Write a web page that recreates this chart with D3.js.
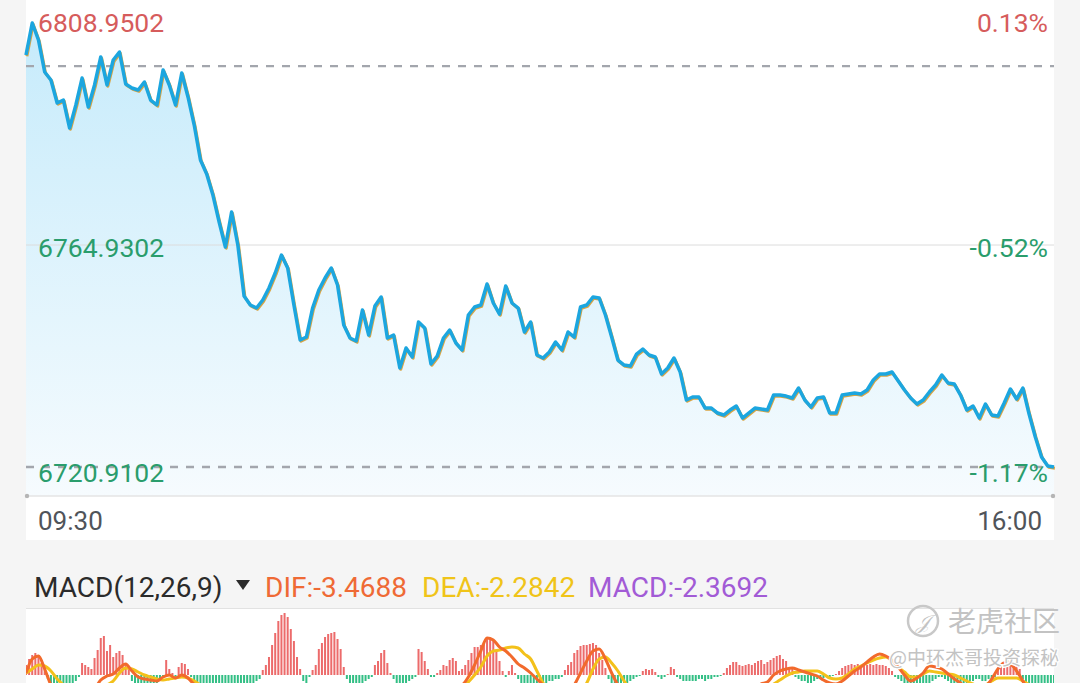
<!DOCTYPE html>
<html>
<head>
<meta charset="utf-8">
<script src="https://cdn.jsdelivr.net/npm/d3@7"></script>
<style>
html, body { margin: 0; padding: 0; background: #f5f5f5; }
svg { display: block; font-family: Roboto, "Noto Sans", sans-serif; }
</style>
</head>
<body>
<svg width="1080" height="683"></svg>
<script>
// ---- data ----
// index price, one point every 2 minutes, 09:30 -> 16:00 (330 trading minutes)
var prices = [
  6802.60, 6808.95, 6805.58, 6799.23, 6797.65, 6793.09, 6793.68, 6788.13, 6792.69, 6798.04,
  6792.29, 6796.66, 6802.21, 6796.66, 6801.61, 6803.20, 6796.85, 6796.06, 6795.66, 6797.25,
  6793.68, 6792.69, 6799.63, 6796.66, 6792.69, 6799.03, 6794.28, 6788.72, 6781.78, 6779.01,
  6774.84, 6769.49, 6764.53, 6771.47, 6764.93, 6754.81, 6753.03, 6752.43, 6754.02, 6756.40,
  6759.37, 6762.94, 6760.37, 6753.03, 6746.09, 6746.68, 6752.43, 6756.00, 6758.38, 6760.37,
  6757.00, 6749.06, 6746.49, 6745.89, 6752.04, 6747.08, 6752.83, 6754.62, 6746.49, 6747.08,
  6740.54, 6744.50, 6742.72, 6749.66, 6748.47, 6741.33, 6742.92, 6746.49, 6748.07, 6745.49,
  6744.11, 6751.05, 6752.63, 6753.03, 6757.19, 6753.43, 6751.24, 6756.80, 6753.43, 6752.43,
  6747.68, 6749.66, 6743.11, 6742.52, 6743.71, 6745.69, 6744.11, 6747.68, 6746.68, 6752.63,
  6753.03, 6754.62, 6754.42, 6751.05, 6746.68, 6742.12, 6741.13, 6740.93, 6743.31, 6744.30,
  6743.11, 6742.72, 6739.35, 6740.54, 6742.52, 6739.74, 6734.19, 6734.79, 6734.79, 6732.60,
  6732.60, 6731.61, 6731.22, 6732.21, 6733.00, 6730.62, 6731.61, 6732.60, 6732.41, 6732.21,
  6735.18, 6735.18, 6734.98, 6734.59, 6736.57, 6734.19, 6732.80, 6734.59, 6734.79, 6731.61,
  6731.61, 6735.18, 6735.38, 6735.58, 6735.38, 6736.17, 6738.16, 6739.35, 6739.35, 6739.74,
  6737.96, 6736.17, 6734.59, 6733.40, 6734.19, 6735.78, 6737.17, 6739.15, 6737.56, 6737.36,
  6735.18, 6732.21, 6733.00, 6730.62, 6733.40, 6731.22, 6731.02, 6733.60, 6736.37, 6734.39,
  6736.57, 6731.41, 6726.85, 6722.89, 6721.10, 6720.91
];
var prevClose = 6800.40;

var priceTicks = [6808.9502, 6764.9302, 6720.9102];
var pctTicks = ["0.13%", "-0.52%", "-1.17%"];
var timeTicks = ["09:30", "16:00"];

// MACD histogram, one bar per minute
var macdHist = [
  0.5, 0.8, 1.0, 1.1, 0.9, 0.6, 0.3,
  -0.2, -0.5, -0.8, -1.0, -1.1, -1.2, -1.1, -0.9, -0.6, -0.3,
  -0.1,
  0.6, 0.5, 0.4, 0.3,
  0.85, 1.25, 1.85, 1.95,
  1.2, 1.5, 0.9, 1.1, 1.2, 1.0, 0.6, 0.3,
  -0.3, -0.6, -0.8, -0.9, -1.0, -1.0, -0.9, -0.7, -0.5, -0.3,
  -0.1, 0.75, 0.3, 0.1, -0.1, 0.4, 0.6, 0.55, 0.3, -0.1,
  -0.4, -0.6, -0.8, -1.0, -1.1, -1.2, -1.3, -1.3, -1.3, -1.2, -1.2, -1.1, -1.0, -1.0, -0.9, -0.8, -0.7, -0.6, -0.5, -0.4, -0.3, -0.2,
  0.25, 0.5, 0.9, 1.5, 2.1, 2.7, 3.0, 3.1, 2.9, 2.3, 1.7, 0.9, 0.3,
  -0.3, -0.4, -0.1,
  0.25, 0.5, 1.3, 1.6, 1.9, 2.05, 2.1, 2.15, 1.8, 1.3, 0.4,
  -0.2, -0.4, -0.5, -0.6, -0.5, -0.4, -0.3, -0.2, -0.1,
  0.5, 0.7, 1.1, 1.25, 0.6, 0.1,
  -0.2, -0.4, -0.5, -0.5, -0.4, -0.3, -0.2, -0.1,
  1.3, 1.15, 0.7, 0.3,
  -0.1, -0.1,
  0.1, 0.25, 0.5, 0.45, 0.75, 0.85, 0.7, 0.2,
  0.3, 0.5, 0.75, 1.1, 1.4, 1.4, 1.5, 1.65, 1.8, 1.85, 1.7, 1.2, 0.7, 0.2,
  -0.1, 0.2, 0.5, 0.1,
  -0.2, -0.4, -0.5, -0.6, -0.6, -0.6, -0.5, -0.5, -0.4, -0.4, -0.3, -0.3, -0.2, -0.2, -0.1,
  0.25, 0.5, 0.65, 1.1, 1.25, 1.45, 1.5, 1.5, 1.55, 1.6, 1.5, 1.1, 0.75, 0.35,
  -0.2, -0.4, -0.5, -0.6, -0.6, -0.5, -0.4, -0.3, -0.2, -0.1, -0.05,
  0.2, 0.3, 0.25, 0.3, 0.15,
  -0.1, -0.2, -0.1, 0.05,
  0.4, 0.3,
  -0.1, -0.2, -0.3, -0.3, -0.3, -0.3, -0.3, -0.2, -0.2, -0.3, -0.2, -0.2, -0.1, -0.1,
  -0.05, 0.1, 0.35, 0.5, 0.65, 0.65, 0.5, 0.45, 0.5, 0.55, 0.5, 0.6, 0.7, 0.75, 0.55, 0.65, 0.75, 0.85, 0.95, 1.0, 0.8, 0.7, 0.4, 0.3,
  -0.1, -0.2, -0.3, -0.3, -0.4, -0.4, -0.3, -0.2, -0.2, -0.15, -0.1, -0.1, -0.05, 0.05,
  0.2, 0.35, 0.45, 0.5, 0.55, 0.5, 0.55, 0.5, 0.55, 0.5, 0.55, 0.5, 0.55, 0.5, 0.5, 0.45, 0.35, 0.2,
  -0.1, -0.2, -0.3, -0.4, -0.5, -0.6, -0.6, -0.7, -0.7, -0.6, -0.5, -0.4, -0.3, -0.2, -0.1, -0.1, -0.2,
  -0.3, -0.4, -0.4, -0.5, -0.5, -0.4, -0.4, -0.3, -0.3, -0.2, -0.2, -0.3, -0.3, -0.2, -0.2, -0.1,
  0.35, 0.5, 0.65, 0.75, 0.7, 0.55, 0.45, 0.3,
  -0.2, -0.5, -0.8, -1.0, -1.3, -1.5, -1.7, -1.9, -2.1, -2.3, -2.3692
];

// DIF / DEA, one point every 2 minutes (same grid as prices)
var difLine = [
  0.1, 0.8, 0.95, 0.3, -0.5, -1.0, -1.3, -1.5, -1.4, -1.2,
  -1.0, -0.7, -0.25, -0.05, 0.05, 0.35, 0.55, 0.2, -0.1, -0.2,
  -0.25, -0.3, -0.1, 0.0, -0.15, 0.0, -0.15, -0.5, -0.9, -1.3,
  -1.7, -2.1, -2.5, -2.7, -2.9, -3.2, -3.3, -3.2, -3.0, -2.6,
  -1.9, -1.4, -1.2, -1.4, -1.9, -2.2, -1.8, -1.2, -0.8, -0.5,
  -0.55, -1.0, -1.4, -1.6, -1.6, -1.55, -1.2, -0.8, -1.0, -1.4,
  -1.6, -1.7, -1.5, -0.9, -0.9, -1.2, -1.1, -0.8, -0.6, -0.6,
  -0.5, -0.1, 0.5, 1.2, 1.85, 1.75, 1.4, 1.2, 0.9, 0.55,
  0.35, 0.1, -0.2, -0.5, -0.8, -1.0, -1.1, -0.9, -0.5, 0.1,
  0.7, 1.2, 1.3, 0.8, 0.1, -0.5, -0.9, -1.2, -1.3, -1.2,
  -1.1, -1.05, -1.1, -1.0, -1.0, -1.15, -1.4, -1.5, -1.5, -1.45,
  -1.4, -1.3, -1.1, -0.9, -0.8, -0.75, -0.7, -0.6, -0.45, -0.35,
  0.0, 0.2, 0.3, 0.35, 0.25, 0.15, 0.05, -0.05, -0.25, -0.4,
  -0.45, -0.3, -0.05, 0.2, 0.4, 0.65, 0.9, 1.05, 0.95, 0.75,
  0.4, 0.0, -0.3, -0.15, 0.1, 0.45, 0.4, 0.3, 0.05, -0.2,
  -0.4, -0.7, -0.9, -0.8, -0.6, -0.2, 0.3, 0.6, 0.55, 0.2,
  -0.3, -0.9, -1.6, -2.3, -2.9, -3.4688
];
var deaLine = [
  0.1, 0.3, 0.5, 0.45, 0.2, -0.2, -0.5, -0.8, -1.0, -1.1,
  -1.1, -0.95, -0.75, -0.5, -0.3, 0.1, 0.35, 0.3, 0.15, 0.0,
  -0.1, -0.2, -0.25, -0.2, -0.15, -0.1, -0.15, -0.3, -0.5, -0.7,
  -0.9, -1.2, -1.5, -1.8, -2.1, -2.4, -2.7, -2.9, -3.05, -3.0,
  -2.9, -2.8, -2.6, -2.3, -2.1, -2.1, -2.0, -1.9, -1.7, -1.5,
  -1.35, -1.25, -1.25, -1.3, -1.35, -1.4, -1.4, -1.3, -1.25, -1.25,
  -1.3, -1.4, -1.45, -1.4, -1.3, -1.25, -1.2, -1.1, -1.0, -0.9,
  -0.7, -0.35, 0.0, 0.4, 0.95, 1.2, 1.25, 1.35, 1.4, 1.35,
  1.05, 0.8, 0.2, -0.4, -0.7, -0.9, -1.0, -1.05, -1.0, -0.7,
  -0.4, 0.3, 0.8, 0.9, 0.6, 0.2, -0.3, -0.7, -0.9, -1.0,
  -1.05, -1.1, -1.1, -1.1, -1.05, -1.05, -1.15, -1.2, -1.25, -1.3,
  -1.3, -1.3, -1.25, -1.2, -1.1, -1.0, -0.95, -0.9, -0.8, -0.6,
  -0.45, -0.25, -0.05, 0.1, 0.15, 0.2, 0.2, 0.2, 0.05, -0.15,
  -0.2, -0.15, 0.05, 0.3, 0.45, 0.6, 0.75, 0.85, 0.9, 0.7,
  0.4, 0.15, -0.1, -0.1, 0.05, 0.2, 0.15, 0.1, 0.05, 0.0,
  -0.15, -0.3, -0.45, -0.55, -0.5, -0.3, -0.15, -0.15, -0.15, -0.15,
  -0.3, -0.5, -0.9, -1.4, -1.9, -2.2842
];

var macdLabel = "MACD(12,26,9)";
var difLast = -3.4688, deaLast = -2.2842, macdLast = -2.3692;

// ---- setup ----
var svg = d3.select("svg");
var left = 26, right = 1054;
var totalMinutes = macdHist.length - 1;   // 330
var priceMinutes = prices.map(function(d, i) { return i * 2; });

var x = d3.scaleLinear().domain([0, totalMinutes]).range([left, right]);
var y = d3.scaleLinear().domain([priceTicks[2], priceTicks[0]]).range([467, 23]);
var ym = d3.scaleLinear().domain([0, 1]).range([675, 655]);
var axisY = 496;

var red = "#d65c5c", green = "#2a9d6c";

// backgrounds
svg.append("rect").attr("width", 1080).attr("height", 683).attr("fill", "#f5f5f5");
svg.append("rect").attr("x", left).attr("y", 0).attr("width", right - left).attr("height", 540).attr("fill", "#fff");
svg.append("rect").attr("x", left).attr("y", 609).attr("width", right - left).attr("height", 80).attr("fill", "#fff");
svg.append("line").attr("x1", left).attr("x2", right).attr("y1", 608.5).attr("y2", 608.5)
  .attr("stroke", "#e2e2e2").attr("stroke-width", 1);

var defs = svg.append("defs");
var grad = defs.append("linearGradient").attr("id", "fillGrad")
  .attr("gradientUnits", "userSpaceOnUse")
  .attr("x1", 0).attr("x2", 0).attr("y1", 23).attr("y2", axisY);
grad.append("stop").attr("offset", 0).attr("stop-color", "#c6ebfb");
grad.append("stop").attr("offset", 1).attr("stop-color", "#f6fbfe");

defs.append("clipPath").attr("id", "macdClip")
  .append("rect").attr("x", left).attr("y", 609).attr("width", right - left).attr("height", 80);

// ---- price panel ----
var area = d3.area()
  .x(function(d, i) { return x(priceMinutes[i]); })
  .y0(axisY)
  .y1(function(d) { return y(d); });

svg.append("path").datum(prices).attr("d", area).attr("fill", "url(#fillGrad)");

// middle grid line
svg.append("line").attr("x1", left).attr("x2", right)
  .attr("y1", y(priceTicks[1])).attr("y2", y(priceTicks[1]))
  .attr("stroke", "#dcdcdc").attr("stroke-width", 1);

// bottom axis line
svg.append("line").attr("x1", left).attr("x2", right).attr("y1", axisY).attr("y2", axisY)
  .attr("stroke", "#e4e4e4").attr("stroke-width", 1.5);
svg.selectAll(".enddot").data([left + 1, right - 1]).enter().append("circle")
  .attr("cx", function(d) { return d; }).attr("cy", axisY).attr("r", 2.2).attr("fill", "#b5b5b5");

// dashed lines: previous close and last price
svg.selectAll(".dash").data([prevClose, prices[prices.length - 1]]).enter().append("line")
  .attr("x1", left).attr("x2", right)
  .attr("y1", function(d) { return y(d); }).attr("y2", function(d) { return y(d); })
  .attr("stroke", "#a3a6ad").attr("stroke-width", 2.4).attr("stroke-dasharray", "8,8");

var line = d3.line()
  .x(function(d, i) { return x(priceMinutes[i]); })
  .y(function(d) { return y(d); });

// average line peeking out under the price line
svg.append("path").datum(prices).attr("d", line)
  .attr("transform", "translate(0.9,1.2)")
  .attr("fill", "none").attr("stroke", "#d9a443").attr("stroke-width", 3)
  .attr("stroke-linejoin", "round");
svg.append("path").datum(prices).attr("d", line)
  .attr("fill", "none").attr("stroke", "#1ca6df").attr("stroke-width", 3.5)
  .attr("stroke-linejoin", "round");

// y labels
var labelDy = [9, 12, 15];
svg.selectAll(".plabel").data(priceTicks).enter().append("text")
  .attr("x", 38).attr("y", function(d, i) { return y(d) + labelDy[i]; })
  .attr("font-size", 26.5)
  .attr("fill", function(d) { return d >= prevClose ? red : green; })
  .text(function(d) { return d.toFixed(4); });

svg.selectAll(".pctlabel").data(pctTicks).enter().append("text")
  .attr("x", 1048).attr("y", function(d, i) { return y(priceTicks[i]) + labelDy[i]; })
  .attr("text-anchor", "end").attr("font-size", 26.5)
  .attr("fill", function(d, i) { return priceTicks[i] >= prevClose ? red : green; })
  .text(function(d) { return d; });

// time labels
svg.selectAll(".tlabel").data(timeTicks).enter().append("text")
  .attr("x", function(d, i) { return i === 0 ? x(0) + 12 : x(totalMinutes) - 12; })
  .attr("y", 530)
  .attr("text-anchor", function(d, i) { return i === 0 ? "start" : "end"; })
  .attr("font-size", 26).attr("fill", "#50545a")
  .text(function(d) { return d; });

// ---- MACD header ----
var header = svg.append("g").attr("font-size", 28);
header.append("text").attr("x", 34).attr("y", 597).attr("fill", "#2b2b2b").text(macdLabel);
header.append("path").attr("d", "M236,580 L250,580 L243,590 Z").attr("fill", "#2b2b2b");
header.append("text").attr("x", 265).attr("y", 597).attr("fill", "#ef6a35").text("DIF:" + difLast.toFixed(4));
header.append("text").attr("x", 422).attr("y", 597).attr("fill", "#f0c419").text("DEA:" + deaLast.toFixed(4));
header.append("text").attr("x", 588).attr("y", 597).attr("fill", "#a25bd6").text("MACD:" + macdLast.toFixed(4));

// ---- MACD panel ----
var macdG = svg.append("g").attr("clip-path", "url(#macdClip)");

macdG.selectAll("rect.bar").data(macdHist).enter().append("rect")
  .attr("class", "bar")
  .attr("x", function(d, i) { return x(i) - 1; })
  .attr("width", 2)
  .attr("y", function(d) { return d >= 0 ? ym(d) : ym(0); })
  .attr("height", function(d) { return Math.abs(ym(d) - ym(0)); })
  .attr("fill", function(d) { return d >= 0 ? "#ec6b6b" : "#33bf85"; });

var macdLine = d3.line()
  .x(function(d, i) { return x(priceMinutes[i]); })
  .y(function(d) { return ym(d); })
  .curve(d3.curveMonotoneX);

macdG.append("path").datum(deaLine).attr("d", macdLine)
  .attr("fill", "none").attr("stroke", "#f3c11a").attr("stroke-width", 3);
macdG.append("path").datum(difLine).attr("d", macdLine)
  .attr("fill", "none").attr("stroke", "#f26a2c").attr("stroke-width", 3);

// ---- watermark ----
var wm = svg.append("g").attr("fill", "#c3c3c3");
wm.append("circle").attr("cx", 923).attr("cy", 621).attr("r", 15)
  .attr("fill", "none").attr("stroke", "#c8c8c8").attr("stroke-width", 2.5);
wm.append("text").attr("x", 923).attr("y", 629).attr("text-anchor", "middle")
  .attr("font-size", 20).attr("font-style", "italic").text("𝒥");
wm.append("text").attr("x", 948).attr("y", 632)
  .attr("font-family", "'Noto Sans CJK SC'").attr("font-size", 28).text("老虎社区");
wm.append("text").attr("x", 1059).attr("y", 665).attr("text-anchor", "end")
  .attr("font-family", "'Noto Sans CJK SC'").attr("font-size", 19)
  .attr("stroke", "#fff").attr("stroke-width", 2.5).attr("paint-order", "stroke")
  .text("@中环杰哥投资探秘");
</script>
</body>
</html>
